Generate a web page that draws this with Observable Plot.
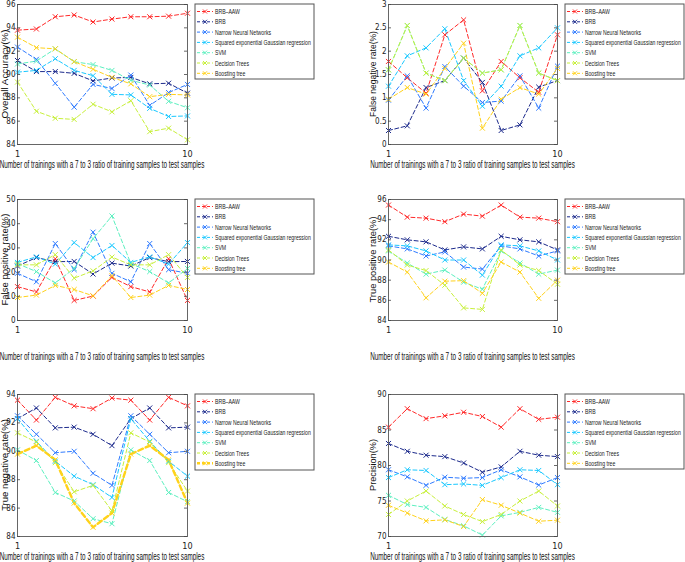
<!DOCTYPE html>
<html><head><meta charset="utf-8">
<script src="https://cdn.jsdelivr.net/npm/d3@7"></script>
<script src="https://cdn.jsdelivr.net/npm/@observablehq/plot@0.6"></script>
<style>
body{margin:0;background:#fff;}
#root{position:relative;width:685px;height:562px;overflow:hidden;font-family:"Liberation Sans",Arial,sans-serif;}
#root svg{position:absolute;overflow:visible;}
</style></head><body><div id="root"></div>
<script>
// ---------- data ----------
const runs = [1,2,3,4,5,6,7,8,9,10];
const xTicks = [1,10];
const seriesNames = ["BRB\u2013AAW","BRB","Narrow Neural Networks","Squared exponential Gaussian regression","SVM","Decision Trees","Boosting tree"];
const seriesColors = ["#ff2a2a","#1c2a8c","#2f7bff","#18c8ff","#5df0c0","#c8f03c","#ffd21a"];
const xTitle = "Number of trainings with a 7 to 3 ratio of training samples to test samples";

const overallAccuracy = [
  [93.8,93.9,94.95,95.1,94.5,94.75,94.95,94.95,95.0,95.25],
  [91.2,90.25,90.25,90.1,89.45,89.7,89.75,89.2,89.25,88.4],
  [92.35,91.3,89.25,87.2,89.15,88.8,89.95,87.35,88.45,89.15],
  [90.2,90.35,91.35,90.35,89.9,88.3,88.25,87.1,86.4,86.45],
  [90.9,91.15,92.2,91.1,90.85,90.35,89.5,89.1,87.7,87.15],
  [89.35,86.85,86.25,86.15,87.45,86.8,87.75,85.1,85.4,84.4],
  [93.2,92.3,92.2,91.1,90.45,89.75,89.2,88.1,88.3,88.25]
];
const falseNegativeRate = [
  [1.78,1.43,1.1,2.35,2.67,1.15,1.78,1.43,1.12,2.35],
  [0.3,0.4,1.22,1.37,1.85,1.33,0.3,0.42,1.23,1.37],
  [0.95,1.47,0.78,1.67,1.25,0.9,0.93,1.47,0.78,1.68],
  [1.25,1.9,2.07,2.48,1.37,0.82,1.25,1.9,2.07,2.5],
  [1.6,2.55,1.53,1.37,1.85,1.53,1.6,2.55,1.53,1.37],
  [1.6,2.55,1.53,1.37,1.85,1.53,1.6,2.55,1.53,1.37],
  [0.97,1.22,1.08,1.63,2.17,0.35,0.97,1.22,1.08,1.63]
];
const falsePositiveRate = [
  [14,11.8,25.5,8.3,10.1,17.8,14,11.8,25.5,8.3],
  [22.5,26,24.3,24.4,19.2,23.7,22.5,26,24.3,24.4],
  [19.5,16,31.8,21,36.5,19.5,16,31.8,21,19.5],
  [24,26.3,23.3,32.2,26,31,24,26.3,23.3,32.2],
  [23.5,20.2,15.5,21.5,33.8,43.2,23.5,20.2,15.5,21.5],
  [23,23,27.2,17.5,20.5,26.2,23,23,27.2,17.8],
  [9.5,10.5,14.5,12.8,10.2,18.5,9.5,10.5,14.5,12.8]
];
const truePositiveRate = [
  [95.45,94.25,94.15,93.8,94.55,94.35,95.45,94.25,94.15,93.8],
  [92.35,92.0,91.8,91.0,91.3,91.1,92.35,92.0,91.8,91.0],
  [91.4,91.1,90.4,90.8,89.3,89.1,91.4,91.1,90.4,90.9],
  [91.5,91.4,90.9,90.0,90.0,88.5,91.5,91.4,90.9,90.0],
  [90.9,89.7,88.6,89.0,87.8,87.1,90.9,89.7,88.6,89.0],
  [91.0,89.5,88.95,87.5,85.25,85.1,91.0,89.5,88.95,87.6],
  [89.8,88.8,86.25,87.9,87.95,86.7,89.8,88.8,86.2,88.0]
];
const trueNegativeRate = [
  [93.6,92.2,93.8,93.2,93.0,93.75,93.6,92.2,93.8,93.2],
  [92.3,93.05,91.65,91.7,91.2,90.4,92.3,93.05,91.65,91.7],
  [92.5,91.2,89.9,90.0,88.45,87.6,92.5,91.2,89.9,90.0],
  [92.3,90.7,89.3,88.25,87.65,86.75,92.3,90.7,89.3,88.25],
  [90.1,89.35,87.1,86.5,85.25,84.9,90.1,89.35,87.1,86.45],
  [91.3,90.65,89.2,87.15,87.6,85.8,91.3,90.65,89.2,87.2],
  [89.8,90.4,89.4,86.35,84.65,85.65,89.8,90.4,89.4,86.35]
];
const precision = [
  [85.4,88.0,86.6,87.0,87.5,86.9,85.4,88.0,86.5,86.8],
  [83.1,82.0,81.45,81.25,80.35,79.05,79.8,82.0,81.45,81.25],
  [79.4,78.4,77.2,78.35,78.2,78.3,79.4,78.4,77.25,78.3],
  [78.3,79.4,79.3,77.3,77.4,77.2,78.3,79.4,79.3,77.3],
  [75.8,74.5,74.1,72.4,71.5,70.2,72.9,73.4,74.1,73.4],
  [73.1,75.0,76.4,74.3,73.1,72.1,73.1,75.0,76.4,74.3],
  [74.4,73.3,72.2,72.35,71.4,75.2,74.4,73.3,72.15,72.3]
];
const accuracyTicks = [84,86,88,90,92,94,96];
const fnrTicks = [0,0.5,1,1.5,2,2.5,3];
const fprTicks = [0,10,20,30,40,50];
const tprTicks = [84,86,88,90,92,94,96];
const tnrTicks = [84,86,88,90,92,94];
const precisionTicks = [70,75,80,85,90];

// ---------- layout ----------
const panels = [
  {values: overallAccuracy, yLabel:"Overall Accuracy(%)", ticks: accuracyTicks, left:0, top:0, width:340, height:180, ml:17, mr:153, mt:4, mb:36, titleY:168, yLabLen:89, yLabX:7.5},
  {values: falseNegativeRate, yLabel:"False negative rate(%)", ticks: fnrTicks, left:340, top:0, width:345, height:180, ml:48, mr:128, mt:4, mb:36, titleY:168, yLabLen:86, yLabX:36},
  {values: falsePositiveRate, yLabel:"False positive rate(%)", ticks: fprTicks, left:0, top:180, width:340, height:185, ml:17, mr:153, mt:19, mb:45, titleY:180, yLabLen:92, yLabX:7.5},
  {values: truePositiveRate, yLabel:"True positive rate(%)", ticks: tprTicks, left:340, top:180, width:345, height:185, ml:48, mr:128, mt:19, mb:45, titleY:180, yLabLen:86, yLabX:36},
  {values: trueNegativeRate, yLabel:"True negative rate(%)", ticks: tnrTicks, left:0, top:365, width:340, height:197, ml:17, mr:153, mt:29, mb:26, titleY:195, yLabLen:92, yLabX:7.5, thick:true},
  {values: precision, yLabel:"Precision(%)", ticks: precisionTicks, left:340, top:365, width:345, height:197, ml:48, mr:128, mt:29, mb:26, titleY:195, yLabLen:52, yLabX:36}
];

const root = document.getElementById("root");
const tickFont = '"Liberation Sans Narrow","DejaVu Sans Condensed","Liberation Sans",Arial,sans-serif';
const textFont = '"Liberation Sans",Arial,sans-serif';

function squeeze(sel, target) {
  const w = sel.node().getComputedTextLength();
  return w > 0 ? target / w : 1;
}

panels.forEach(p => {
  const rows = p.values.flatMap((vals, s) => vals.map((v, i) => ({run: runs[i], value: v, series: seriesNames[s], thick: p.thick && s === 6})));
  const thin = rows.filter(d => !d.thick), thick = rows.filter(d => d.thick);
  const svg = Plot.plot({
    width: p.width, height: p.height,
    marginLeft: p.ml, marginRight: p.mr, marginTop: p.mt, marginBottom: p.mb,
    style: {fontFamily: tickFont, fontSize: "8px", background: "transparent", overflow: "visible", color: "#222"},
    x: {domain: [1, 10], label: null},
    y: {domain: [p.ticks[0], p.ticks[p.ticks.length - 1]], label: null},
    color: {domain: seriesNames, range: seriesColors},
    marks: [
      Plot.line(thin, {x: "run", y: "value", z: "series", stroke: "series", strokeWidth: 1, strokeDasharray: "4,2.5"}),
      Plot.line(thick, {x: "run", y: "value", z: "series", stroke: "series", strokeWidth: 2.4, strokeDasharray: "5,3"}),
      Plot.dot(rows, {x: "run", y: "value", symbol: "times", stroke: "series", r: 2.4, strokeWidth: 1}),
      Plot.frame({stroke: "#666", strokeWidth: 1}),
      Plot.axisX({ticks: xTicks, tickSize: 0, tickPadding: 6, label: null, fontSize: 9}),
      Plot.axisY({ticks: p.ticks, tickSize: 0, tickPadding: 2, tickFormat: d => String(d), label: null}),
      Plot.tickY(p.ticks, {y: d => d, stroke: "#444", strokeWidth: 0.8, insetRight: p.width - p.ml - p.mr - 3}),
      Plot.tickY(p.ticks, {y: d => d, stroke: "#444", strokeWidth: 0.8, insetLeft: p.width - p.ml - p.mr - 3})
    ]
  });
  svg.style.left = p.left + "px";
  svg.style.top = p.top + "px";
  root.appendChild(svg);

  const s = d3.select(svg);
  const cx = p.ml + (p.width - p.ml - p.mr) / 2;
  const cy = p.mt + (p.height - p.mt - p.mb) / 2;
  const xt = s.append("text").attr("text-anchor", "middle")
    .attr("font-family", textFont).attr("font-size", 10).attr("fill", "#111").text(xTitle);
  xt.attr("transform", `translate(${cx},${p.titleY}) scale(${squeeze(xt, 205)},1)`);
  const yt = s.append("text").attr("text-anchor", "middle")
    .attr("font-family", textFont).attr("font-size", 8.5).attr("fill", "#111").text(p.yLabel);
  yt.attr("transform", `translate(${p.yLabX},${cy}) rotate(-90) scale(${squeeze(yt, p.yLabLen)},1)`);
  const lx = p.width - p.mr + 8, ly = p.mt;
  const g = s.append("g").attr("transform", `translate(${lx},${ly})`).attr("text-anchor", "start");
  g.append("rect").attr("width", 119).attr("height", p.thick ? 76 : 75).attr("fill", "#fff").attr("stroke", "#555").attr("stroke-width", 1);
  const texts = [];
  seriesNames.forEach((name, i) => {
    const y = 7.5 + i * 10.3;
    const c = seriesColors[i];
    const isThick = p.thick && i === 6;
    g.append("line").attr("x1", 2).attr("x2", 18).attr("y1", y).attr("y2", y).attr("stroke", c)
      .attr("stroke-width", isThick ? 2.4 : 1).attr("stroke-dasharray", "3,2");
    g.append("path").attr("d", `M${10-2},${y-2}L${10+2},${y+2}M${10-2},${y+2}L${10+2},${y-2}`).attr("stroke", c).attr("stroke-width", 1).attr("fill", "none");
    const t = g.append("text").attr("font-size", 7.5).attr("text-anchor", "start")
      .attr("font-family", textFont).attr("fill", "#222").text(name);
    texts.push({t, y});
  });
  const lens = texts.map(o => o.t.node().getComputedTextLength());
  const f = 96 / Math.max(...lens);
  texts.forEach(o => o.t.attr("transform", `translate(20,${o.y + 2.6}) scale(${f},1)`));
});
</script></body></html>
